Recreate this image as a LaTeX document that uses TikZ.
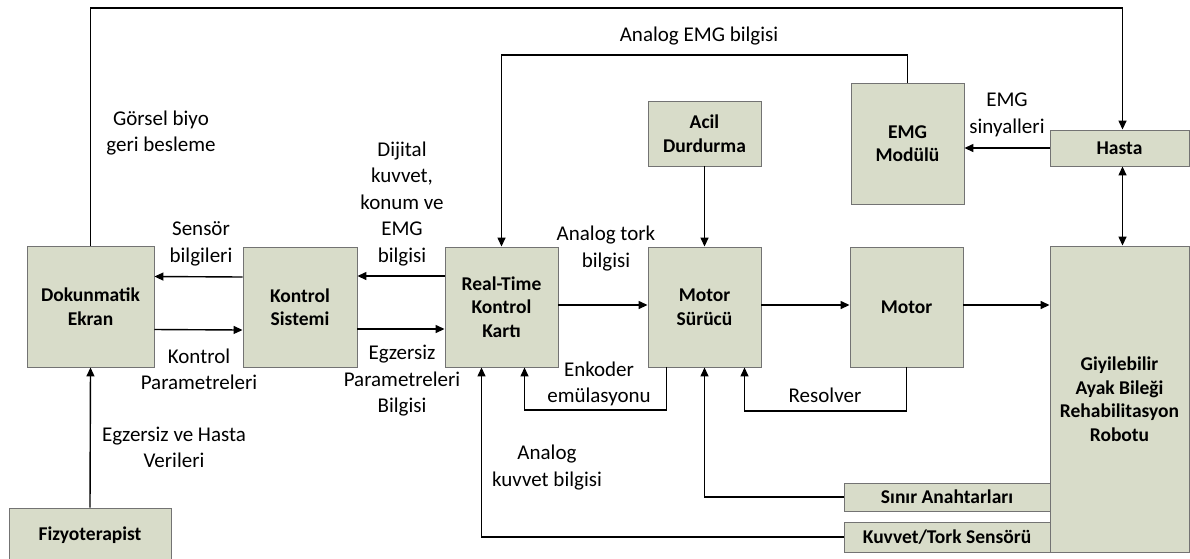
\documentclass[tikz,border=0pt]{standalone}
\usepackage{fontspec}
\setmainfont{Carlito}
\usetikzlibrary{arrows.meta}
\definecolor{blkfill}{RGB}{216,220,201}
\definecolor{blkline}{RGB}{115,115,115}

\begin{document}
\begin{tikzpicture}[x=1pt, y=-1pt, font=\fontsize{21}{26.5}\selectfont,
  blk/.style={draw=blkline, fill=blkfill, line width=0.9pt, align=center, inner sep=0pt, font=\fontsize{19.5}{23.5}\selectfont\bfseries},
  lbl/.style={align=center, inner sep=0pt},
  arr/.style={line width=1.4pt, -{Triangle[length=9pt,width=8pt]}},
  darr/.style={line width=1.4pt, {Triangle[length=9pt,width=8pt]}-{Triangle[length=9pt,width=8pt]}}]
  \useasboundingbox (0,0) rectangle (1190,558);
  % blocks
  \node[blk, minimum width=127pt, minimum height=121pt] (ekran) at (90.5,306.5) {Dokunmatik\\Ekran};
  \node[blk, minimum width=114pt, minimum height=120pt] (kontrol) at (300,307) {Kontrol\\Sistemi};
  \node[blk, minimum width=113pt, minimum height=120pt] (rtk) at (501.5,307) {Real-Time\\Kontrol\\Kartı};
  \node[blk, minimum width=113pt, minimum height=120pt] (surucu) at (704.5,307) {Motor\\Sürücü};
  \node[blk, minimum width=113pt, minimum height=120pt] (motor) at (906.5,307) {Motor};
  \node[blk, minimum width=139pt, minimum height=306pt] (robot) at (1119.5,399) {Giyilebilir\\Ayak Bileği\\Rehabilitasyon\\Robotu};
  \node[blk, minimum width=139pt, minimum height=36pt] (hasta) at (1119.5,148) {Hasta};
  \node[blk, minimum width=113pt, minimum height=121pt] (emg) at (907.5,143.5) {EMG\\Modülü};
  \node[blk, minimum width=113pt, minimum height=65pt] (acil) at (704.5,133.5) {Acil\\Durdurma};
  \node[blk, minimum width=206pt, minimum height=28pt] (sinir) at (947,497) {Sınır Anahtarları};
  \node[blk, minimum width=206pt, minimum height=30pt] (kuvvet) at (947,537) {Kuvvet/Tork Sensörü};
  \node[blk, minimum width=162pt, minimum height=62pt] (fizyo) at (90,539) {\raisebox{11pt}{Fizyoterapist}};
  \coordinate (toprail) at (0,8);
  \coordinate (emgrail) at (0,55);
  \coordinate (encrail) at (0,410);
  \coordinate (resrail) at (0,411);
  % connectors
  \draw[arr] (ekran.north) -- (ekran.north |- toprail) -| ([xshift=3pt]hasta.north);
  \draw[arr] (emg.north) -- (emg.north |- emgrail) -| (rtk.north);
  \draw[arr] (acil) -- (surucu);
  \draw[arr] (hasta.west) -- (hasta.west -| emg.east);
  \draw[darr] ([xshift=3pt]hasta.south) -- ([xshift=3pt]robot.north);
  \draw[arr] ([yshift=31pt]rtk.west) -- ([yshift=31pt]kontrol.east);
  \draw[arr] ([yshift=30pt]kontrol.west) -- ([yshift=30pt]ekran.east);
  \draw[arr] ([yshift=-23pt]ekran.east) -- ([yshift=-23pt]kontrol.west);
  \draw[arr] ([yshift=-22pt]kontrol.east) -- ([yshift=-22pt]rtk.west);
  \draw[arr] ([yshift=2pt]rtk.east) -- ([yshift=2pt]surucu.west);
  \draw[arr] ([yshift=2pt]surucu.east) -- ([yshift=2pt]motor.west);
  \draw[arr] ([yshift=2pt]motor.east) -- ([yshift=2pt]motor.east -| robot.west);
  \draw[arr] ([xshift=-38pt]surucu.south) -- ([xshift=-38pt]surucu.south |- encrail) -| ([xshift=23pt]rtk.south);
  \draw[arr] (motor.south) -- (motor.south |- resrail) -| ([xshift=40pt]surucu.south);
  \draw[arr] (sinir.west) -| (surucu.south);
  \draw[arr] (kuvvet.west) -| ([xshift=-20pt]rtk.south);
  \draw[arr] (fizyo.north) -- (ekran.south);
  % labels
  \node[lbl] (gorsel) at (161,133) {Görsel biyo\\geri besleme};
  \node[lbl] (dijital) at (402,204) {Dijital\\kuvvet,\\konum ve\\EMG\\bilgisi};
  \node[lbl] (sensor) at (201,244) {Sensör\\bilgileri};
  \node[lbl] (kparam) at (199,369.5) {Kontrol\\Parametreleri};
  \node[lbl] (eparam) at (402,381) {Egzersiz\\Parametreleri\\Bilgisi};
  \node[lbl] (egzhasta) at (174,447.5) {Egzersiz ve Hasta\\Verileri};
  \node[lbl] (analogk) at (547,467.5) {Analog\\kuvvet bilgisi};
  \node[lbl] (analogt) at (606,248.5) {Analog tork\\bilgisi};
  \node[lbl] (enkoder) at (599,384) {Enkoder\\emülasyonu};
  \node[lbl] (resolver) at (825,395) {Resolver};
  \node[lbl] (emgsin) at (1007,115) {EMG\\sinyalleri};
  \node[lbl] (analogemg) at (699,36) {Analog EMG bilgisi};
\end{tikzpicture}
\end{document}
